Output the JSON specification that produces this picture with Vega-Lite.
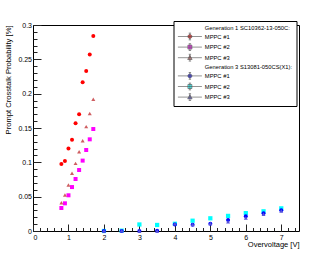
{
  "$schema": "https://vega.github.io/schema/vega-lite/v6.json",
  "width": 266,
  "height": 206,
  "autosize": {"type": "none"},
  "padding": {"left": 33, "top": 25, "right": 33, "bottom": 26},
  "background": "white",
  "config": {
    "view": {"stroke": "black", "strokeWidth": 1},
    "font": "Liberation Sans",
    "axis": {"labelFont": "Liberation Sans", "titleFont": "Liberation Sans", "labelColor": "black", "titleColor": "black", "tickColor": "#222", "tickWidth": 1, "grid": false, "domain": false, "titleFontWeight": "normal"}
  },
  "data": {"values": [
    {"series": "Generation 1 SC10362-13-050C: MPPC #1", "overvoltage": 0.8, "probability": 0.0975},
    {"series": "Generation 1 SC10362-13-050C: MPPC #1", "overvoltage": 0.9, "probability": 0.102},
    {"series": "Generation 1 SC10362-13-050C: MPPC #1", "overvoltage": 1.0, "probability": 0.120},
    {"series": "Generation 1 SC10362-13-050C: MPPC #1", "overvoltage": 1.1, "probability": 0.133},
    {"series": "Generation 1 SC10362-13-050C: MPPC #1", "overvoltage": 1.2, "probability": 0.157},
    {"series": "Generation 1 SC10362-13-050C: MPPC #1", "overvoltage": 1.3, "probability": 0.170},
    {"series": "Generation 1 SC10362-13-050C: MPPC #1", "overvoltage": 1.4, "probability": 0.2165},
    {"series": "Generation 1 SC10362-13-050C: MPPC #1", "overvoltage": 1.5, "probability": 0.233},
    {"series": "Generation 1 SC10362-13-050C: MPPC #1", "overvoltage": 1.6, "probability": 0.257},
    {"series": "Generation 1 SC10362-13-050C: MPPC #1", "overvoltage": 1.7, "probability": 0.284},
    {"series": "Generation 1 SC10362-13-050C: MPPC #2", "overvoltage": 0.8, "probability": 0.0335},
    {"series": "Generation 1 SC10362-13-050C: MPPC #2", "overvoltage": 0.9, "probability": 0.0403},
    {"series": "Generation 1 SC10362-13-050C: MPPC #2", "overvoltage": 1.0, "probability": 0.052},
    {"series": "Generation 1 SC10362-13-050C: MPPC #2", "overvoltage": 1.1, "probability": 0.064},
    {"series": "Generation 1 SC10362-13-050C: MPPC #2", "overvoltage": 1.2, "probability": 0.0757},
    {"series": "Generation 1 SC10362-13-050C: MPPC #2", "overvoltage": 1.3, "probability": 0.0888},
    {"series": "Generation 1 SC10362-13-050C: MPPC #2", "overvoltage": 1.4, "probability": 0.1025},
    {"series": "Generation 1 SC10362-13-050C: MPPC #2", "overvoltage": 1.5, "probability": 0.118},
    {"series": "Generation 1 SC10362-13-050C: MPPC #2", "overvoltage": 1.6, "probability": 0.1335},
    {"series": "Generation 1 SC10362-13-050C: MPPC #2", "overvoltage": 1.7, "probability": 0.1485},
    {"series": "Generation 1 SC10362-13-050C: MPPC #3", "overvoltage": 0.8, "probability": 0.041},
    {"series": "Generation 1 SC10362-13-050C: MPPC #3", "overvoltage": 0.9, "probability": 0.0524},
    {"series": "Generation 1 SC10362-13-050C: MPPC #3", "overvoltage": 1.0, "probability": 0.067},
    {"series": "Generation 1 SC10362-13-050C: MPPC #3", "overvoltage": 1.1, "probability": 0.084},
    {"series": "Generation 1 SC10362-13-050C: MPPC #3", "overvoltage": 1.2, "probability": 0.0985},
    {"series": "Generation 1 SC10362-13-050C: MPPC #3", "overvoltage": 1.3, "probability": 0.1155},
    {"series": "Generation 1 SC10362-13-050C: MPPC #3", "overvoltage": 1.4, "probability": 0.1315},
    {"series": "Generation 1 SC10362-13-050C: MPPC #3", "overvoltage": 1.5, "probability": 0.152},
    {"series": "Generation 1 SC10362-13-050C: MPPC #3", "overvoltage": 1.6, "probability": 0.171},
    {"series": "Generation 1 SC10362-13-050C: MPPC #3", "overvoltage": 1.7, "probability": 0.192},
    {"series": "Generation 3 S13081-050CS(X1): MPPC #2", "overvoltage": 2.0, "probability": 0.0},
    {"series": "Generation 3 S13081-050CS(X1): MPPC #2", "overvoltage": 2.5, "probability": 0.0005},
    {"series": "Generation 3 S13081-050CS(X1): MPPC #2", "overvoltage": 3.0, "probability": 0.0095},
    {"series": "Generation 3 S13081-050CS(X1): MPPC #2", "overvoltage": 3.5, "probability": 0.0088},
    {"series": "Generation 3 S13081-050CS(X1): MPPC #2", "overvoltage": 4.0, "probability": 0.0105},
    {"series": "Generation 3 S13081-050CS(X1): MPPC #2", "overvoltage": 4.5, "probability": 0.015},
    {"series": "Generation 3 S13081-050CS(X1): MPPC #2", "overvoltage": 5.0, "probability": 0.0185},
    {"series": "Generation 3 S13081-050CS(X1): MPPC #2", "overvoltage": 5.5, "probability": 0.022},
    {"series": "Generation 3 S13081-050CS(X1): MPPC #2", "overvoltage": 6.0, "probability": 0.026},
    {"series": "Generation 3 S13081-050CS(X1): MPPC #2", "overvoltage": 6.5, "probability": 0.0287},
    {"series": "Generation 3 S13081-050CS(X1): MPPC #2", "overvoltage": 7.0, "probability": 0.033},
    {"series": "Generation 3 S13081-050CS(X1): MPPC #1", "overvoltage": 2.0, "probability": 0.0},
    {"series": "Generation 3 S13081-050CS(X1): MPPC #1", "overvoltage": 2.5, "probability": 0.0},
    {"series": "Generation 3 S13081-050CS(X1): MPPC #1", "overvoltage": 3.0, "probability": 0.0},
    {"series": "Generation 3 S13081-050CS(X1): MPPC #1", "overvoltage": 3.5, "probability": 0.0005},
    {"series": "Generation 3 S13081-050CS(X1): MPPC #1", "overvoltage": 4.0, "probability": 0.0095},
    {"series": "Generation 3 S13081-050CS(X1): MPPC #1", "overvoltage": 4.5, "probability": 0.0092},
    {"series": "Generation 3 S13081-050CS(X1): MPPC #1", "overvoltage": 5.0, "probability": 0.0105},
    {"series": "Generation 3 S13081-050CS(X1): MPPC #1", "overvoltage": 5.5, "probability": 0.016},
    {"series": "Generation 3 S13081-050CS(X1): MPPC #1", "overvoltage": 6.0, "probability": 0.0215},
    {"series": "Generation 3 S13081-050CS(X1): MPPC #1", "overvoltage": 6.5, "probability": 0.0257},
    {"series": "Generation 3 S13081-050CS(X1): MPPC #1", "overvoltage": 7.0, "probability": 0.0303},
    {"series": "Generation 3 S13081-050CS(X1): MPPC #3", "overvoltage": 2.0, "probability": 0.0},
    {"series": "Generation 3 S13081-050CS(X1): MPPC #3", "overvoltage": 2.5, "probability": 0.0005},
    {"series": "Generation 3 S13081-050CS(X1): MPPC #3", "overvoltage": 3.0, "probability": 0.0},
    {"series": "Generation 3 S13081-050CS(X1): MPPC #3", "overvoltage": 3.5, "probability": 0.0},
    {"series": "Generation 3 S13081-050CS(X1): MPPC #3", "overvoltage": 4.0, "probability": 0.0105},
    {"series": "Generation 3 S13081-050CS(X1): MPPC #3", "overvoltage": 4.5, "probability": 0.0095},
    {"series": "Generation 3 S13081-050CS(X1): MPPC #3", "overvoltage": 5.0, "probability": 0.011},
    {"series": "Generation 3 S13081-050CS(X1): MPPC #3", "overvoltage": 5.5, "probability": 0.0136},
    {"series": "Generation 3 S13081-050CS(X1): MPPC #3", "overvoltage": 6.0, "probability": 0.019},
    {"series": "Generation 3 S13081-050CS(X1): MPPC #3", "overvoltage": 6.5, "probability": 0.0245},
    {"series": "Generation 3 S13081-050CS(X1): MPPC #3", "overvoltage": 7.0, "probability": 0.0292}
  ]},
  "encoding": {
    "x": {"field": "overvoltage", "type": "quantitative", "scale": {"domain": [0, 7.5], "nice": false, "zero": false}, "axis": null},
    "y": {"field": "probability", "type": "quantitative", "scale": {"domain": [0, 0.3], "nice": false, "zero": false}, "axis": null}
  },
  "layer": [
    {
      "mark": {"type": "point", "opacity": 0},
      "encoding": {
        "x": {"field": "overvoltage", "type": "quantitative", "scale": {"domain": [0, 7.5], "nice": false, "zero": false},
          "axis": {"orient": "bottom", "values": [0,0.2,0.4,0.6,0.8,1,1.2,1.4,1.6,1.8,2,2.2,2.4,2.6,2.8,3,3.2,3.4,3.6,3.8,4,4.2,4.4,4.6,4.8,5,5.2,5.4,5.6,5.8,6,6.2,6.4,6.6,6.8,7,7.2,7.4], "labels": false, "tickSize": -3.5, "title": null}},
        "y": {"field": "probability", "type": "quantitative", "scale": {"domain": [0, 0.3], "nice": false, "zero": false},
          "axis": {"orient": "left", "values": [0,0.01,0.02,0.03,0.04,0.05,0.06,0.07,0.08,0.09,0.1,0.11,0.12,0.13,0.14,0.15,0.16,0.17,0.18,0.19,0.2,0.21,0.22,0.23,0.24,0.25,0.26,0.27,0.28,0.29,0.3], "labels": false, "tickSize": -4, "title": null}}
      }
    },
    {
      "mark": {"type": "point", "opacity": 0},
      "encoding": {
        "x": {"field": "overvoltage", "type": "quantitative", "scale": {"domain": [0, 7.5], "nice": false, "zero": false},
          "axis": {"orient": "bottom", "values": [0,1,2,3,4,5,6,7], "tickSize": -7, "labelPadding": 9.5, "labelFontSize": 7, "title": "Overvoltage [V]", "titleFontSize": 7.5, "titleAnchor": "end", "titleAlign": "right", "titleBaseline": "middle", "titleX": 266, "titleY": 13}},
        "y": {"field": "probability", "type": "quantitative", "scale": {"domain": [0, 0.3], "nice": false, "zero": false},
          "axis": {"orient": "left", "values": [0,0.05,0.1,0.15,0.2,0.25,0.3], "format": "~g", "tickSize": -8, "labelPadding": 9.5, "labelFontSize": 7, "title": "Prompt Crosstalk Probability [%]", "titleFontSize": 7.6, "titleAnchor": "end", "titleAlign": "right", "titleBaseline": "middle", "titleAngle": 270, "titleX": -25, "titleY": 0}}
      }
    },
    {
      "transform": [{"filter": "datum.series == 'Generation 1 SC10362-13-050C: MPPC #1'"}],
      "mark": {"type": "point", "shape": "circle", "filled": true, "size": 16, "opacity": 1, "color": "#ff0000"}
    },
    {
      "transform": [{"filter": "datum.series == 'Generation 1 SC10362-13-050C: MPPC #2'"}],
      "mark": {"type": "point", "shape": "square", "filled": true, "size": 16, "opacity": 1, "color": "#ff00ff"}
    },
    {
      "transform": [{"filter": "datum.series == 'Generation 1 SC10362-13-050C: MPPC #3'"}],
      "mark": {"type": "point", "shape": "triangle-up", "filled": true, "size": 16, "opacity": 1, "color": "#cf5e61"}
    },
    {
      "transform": [{"filter": "datum.series == 'Generation 3 S13081-050CS(X1): MPPC #2'"}],
      "mark": {"type": "point", "shape": "square", "filled": true, "size": 18, "opacity": 1, "color": "#00ffff"}
    },
    {
      "transform": [{"filter": "datum.series == 'Generation 3 S13081-050CS(X1): MPPC #1'"}],
      "mark": {"type": "point", "shape": "circle", "filled": true, "size": 16, "opacity": 1, "color": "#0000ff"}
    },
    {
      "transform": [{"filter": "datum.series == 'Generation 3 S13081-050CS(X1): MPPC #3'"}],
      "mark": {"type": "point", "shape": "triangle-up", "filled": true, "size": 16, "opacity": 1, "color": "#5954d9"}
    },
    {
      "transform": [{"filter": "false"}],
      "mark": {"type": "point", "filled": true},
      "encoding": {
        "color": {"field": "series", "type": "nominal",
          "scale": {"domain": ["Generation 1 SC10362-13-050C:", "Generation 1 SC10362-13-050C: MPPC #1", "Generation 1 SC10362-13-050C: MPPC #2", "Generation 1 SC10362-13-050C: MPPC #3", "Generation 3 S13081-050CS(X1):", "Generation 3 S13081-050CS(X1): MPPC #1", "Generation 3 S13081-050CS(X1): MPPC #2", "Generation 3 S13081-050CS(X1): MPPC #3"],
            "range": ["transparent", "#ff0000", "#ff00ff", "#cf5e61", "transparent", "#0000ff", "#00ffff", "#5954d9"]},
          "legend": {"orient": "none", "legendX": 140.5, "legendY": -4, "title": null, "labelFont": "Liberation Sans", "labelFontSize": 5.8, "labelColor": "black", "symbolSize": 16, "symbolStrokeColor": "black", "symbolStrokeWidth": 0.6, "strokeColor": "black", "fillColor": "white", "padding": 4, "rowPadding": 0.6, "symbolOffset": 9.5, "labelOffset": 12,
            "labelExpr": "indexof(datum.label, ': ') > 0 ? substring(datum.label, indexof(datum.label, ': ') + 2) : datum.label",
            "encode": {"symbols": {"update": {"stroke": {"value": "black"}, "strokeWidth": {"value": 0.6}}}}}},
        "shape": {"field": "series", "type": "nominal",
          "scale": {"domain": ["Generation 1 SC10362-13-050C:", "Generation 1 SC10362-13-050C: MPPC #1", "Generation 1 SC10362-13-050C: MPPC #2", "Generation 1 SC10362-13-050C: MPPC #3", "Generation 3 S13081-050CS(X1):", "Generation 3 S13081-050CS(X1): MPPC #1", "Generation 3 S13081-050CS(X1): MPPC #2", "Generation 3 S13081-050CS(X1): MPPC #3"],
            "range": ["M0,0", "M-6,0H6M0,-1.7V1.7M-0.6,-1.7H0.6M-0.6,1.7H0.6M-1,0A1,1 0 1,0 1,0A1,1 0 1,0 -1,0Z", "M-6,0H6M0,-1.7V1.7M-0.6,-1.7H0.6M-0.6,1.7H0.6M-1,-1H1V1H-1Z", "M-6,0H6M0,-1.7V1.7M-0.6,-1.7H0.6M-0.6,1.7H0.6M0,-1.2L1.1,0.9H-1.1Z", "M0,0", "M-6,0H6M0,-1.7V1.7M-0.6,-1.7H0.6M-0.6,1.7H0.6M-1,0A1,1 0 1,0 1,0A1,1 0 1,0 -1,0Z", "M-6,0H6M0,-1.7V1.7M-0.6,-1.7H0.6M-0.6,1.7H0.6M-1,-1H1V1H-1Z", "M-6,0H6M0,-1.7V1.7M-0.6,-1.7H0.6M-0.6,1.7H0.6M0,-1.2L1.1,0.9H-1.1Z"]}}
      }
    }
  ],
  "resolve": {"axis": {"x": "independent", "y": "independent"}}
}
